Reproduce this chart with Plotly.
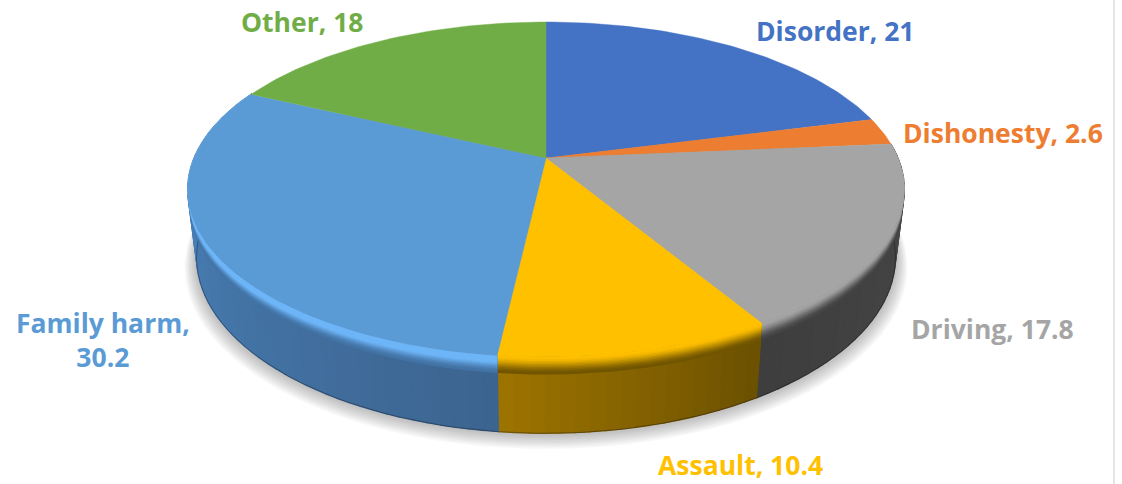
import numpy as np
import plotly.graph_objects as go

categories = ["Disorder", "Dishonesty", "Driving", "Assault", "Family harm", "Other"]
values = [21, 2.6, 17.8, 10.4, 30.2, 18]
label_text = ["Disorder, 21", "Dishonesty, 2.6", "Driving, 17.8", "Assault, 10.4", "Family harm,<br>30.2", "Other, 18"]
label_x = [835, 1003, 992, 740, 103, 302]
label_y = [31, 133, 329, 465, 340, 22]
top_colors = ["#4472C4", "#ED7D31", "#A5A5A5", "#FFC000", "#5B9BD5", "#70AD47"]
rim_colors = ["#4472C4", "#ED7D31", "#454545", "#705400", "#6DB5F7", "#70AD47"]
wall_start = [(60, 90, 160), (190, 100, 40), (72, 72, 72), (106, 80, 0), (60, 100, 143), (80, 130, 60)]
wall_end = [(60, 90, 160), (190, 100, 40), (62, 62, 62), (158, 116, 0), (78, 138, 198), (80, 130, 60)]

CX, CY, A, B, K, DEPTH, LOW = 546, 158, 352, 161.6, 0.188, 66, 0.975
WALL_FROM, WALL_TO = 84.9, 295.3


def ring(theta, h=0.0, s=1.0):
    """theta clockwise from 12 o'clock; h: 0 top rim, 1 bottom rim of the wall."""
    th = np.radians(theta)
    u, v = np.sin(th), np.cos(th)
    den = 1 + K * v
    sc = (1 - h * (1 - LOW)) * s
    return CX + sc * A * u / den, CY - sc * B * v / den + h * DEPTH / den


def hexmix(c1, c2, t):
    a = [int(c1[i:i + 2], 16) for i in (1, 3, 5)]
    b = [int(c2[i:i + 2], 16) for i in (1, 3, 5)]
    return "rgb(%d,%d,%d)" % tuple(round(a[i] + (b[i] - a[i]) * t) for i in range(3))


def poly(x, y, color, line=0.6):
    return go.Scatter(x=list(x), y=list(y), mode="lines", fill="toself", fillcolor=color,
                      line=dict(color=color, width=line), hoverinfo="skip", showlegend=False)


edges = np.concatenate([[0], np.cumsum(values)]) * 3.6
fig = go.Figure()

# soft shadow under the pie
full = np.linspace(0, 360, 241)
for i in range(9):
    grow = 1.034 - i * 0.004
    x, y = ring(full, 1.0, grow)
    fig.add_trace(go.Scatter(x=x, y=y + 9 - i, mode="lines", fill="toself",
                             fillcolor="rgba(60,60,60,0.04)", line=dict(width=0),
                             hoverinfo="skip", showlegend=False))

# side wall, gradient in narrow pieces
for i in range(len(values)):
    lo, hi = max(edges[i], WALL_FROM), min(edges[i + 1], WALL_TO)
    if hi <= lo:
        continue
    n = max(2, int((hi - lo) / 2))
    steps = np.linspace(lo, hi, n + 1)
    for j in range(n):
        t = (j + 0.5) / n
        rgb = [wall_start[i][m] + (wall_end[i][m] - wall_start[i][m]) * t for m in range(3)]
        col = "rgb(%d,%d,%d)" % tuple(round(c) for c in rgb)
        th = np.linspace(steps[j], steps[j + 1], 3)
        xa, ya = ring(th, 0.0)
        xb, yb = ring(th[::-1], 1.0)
        fig.add_trace(poly(np.r_[xa, xb, xa[0]], np.r_[ya, yb, ya[0]], col, 1.2))
    th = np.linspace(lo, hi, 40)
    xb, yb = ring(th, 1.0)
    fig.add_trace(go.Scatter(x=xb, y=yb, mode="lines", line=dict(color="rgba(20,20,30,0.4)", width=1),
                             hoverinfo="skip", showlegend=False))

# bevel just under the top edge, soft blend in many thin bands
bevel = np.linspace(0.23, 0.015, 12)
for i in range(len(values)):
    lo, hi = max(edges[i], WALL_FROM), min(edges[i + 1], WALL_TO)
    if hi <= lo:
        continue
    th = np.linspace(lo, hi, 60)
    wall_mid = "#%02x%02x%02x" % tuple(
        round((wall_start[i][m] * 0.6 + wall_end[i][m] * 0.4)) for m in range(3))
    for k, h in enumerate(bevel):
        t = k / (len(bevel) - 1)
        t = t * t * (3 - 2 * t)
        if i == 4:
            col = hexmix(wall_mid, rim_colors[i], min(1, t * 1.5))
        else:
            col = hexmix(rim_colors[i], top_colors[i], t)
        xa, ya = ring(th, 0.0)
        xb, yb = ring(th[::-1], h)
        fig.add_trace(poly(np.r_[xa, xb, xa[0]], np.r_[ya, yb, ya[0]], col, 0))

# top face
for i in range(len(values)):
    th = np.linspace(edges[i], edges[i + 1], max(8, int(values[i] * 3)))
    x, y = ring(th)
    fig.add_trace(poly(np.r_[CX, x, CX], np.r_[CY, y, CY], top_colors[i], 0.4))

for i, txt in enumerate(label_text):
    fig.add_annotation(x=label_x[i], y=label_y[i], text=txt, showarrow=False, xref="x", yref="y",
                       xanchor="center", yanchor="middle",
                       font=dict(family="Open Sans", size=26.5, color=top_colors[i], weight="bold"),
                       align="center")

fig.add_shape(type="line", x0=1114, x1=1114, y0=0, y1=484, xref="x", yref="y",
              line=dict(color="#dcdcdc", width=1.5))

fig.update_layout(width=1122, height=484, margin=dict(l=0, r=0, t=0, b=0),
                  paper_bgcolor="white", plot_bgcolor="white", showlegend=False,
                  xaxis=dict(range=[0, 1122], visible=False, fixedrange=True),
                  yaxis=dict(range=[484, 0], visible=False, fixedrange=True))

fig.write_html("out.html", config={"displayModeBar": False},
               post_script="document.body.style.margin='0';document.body.style.overflow='hidden';")
